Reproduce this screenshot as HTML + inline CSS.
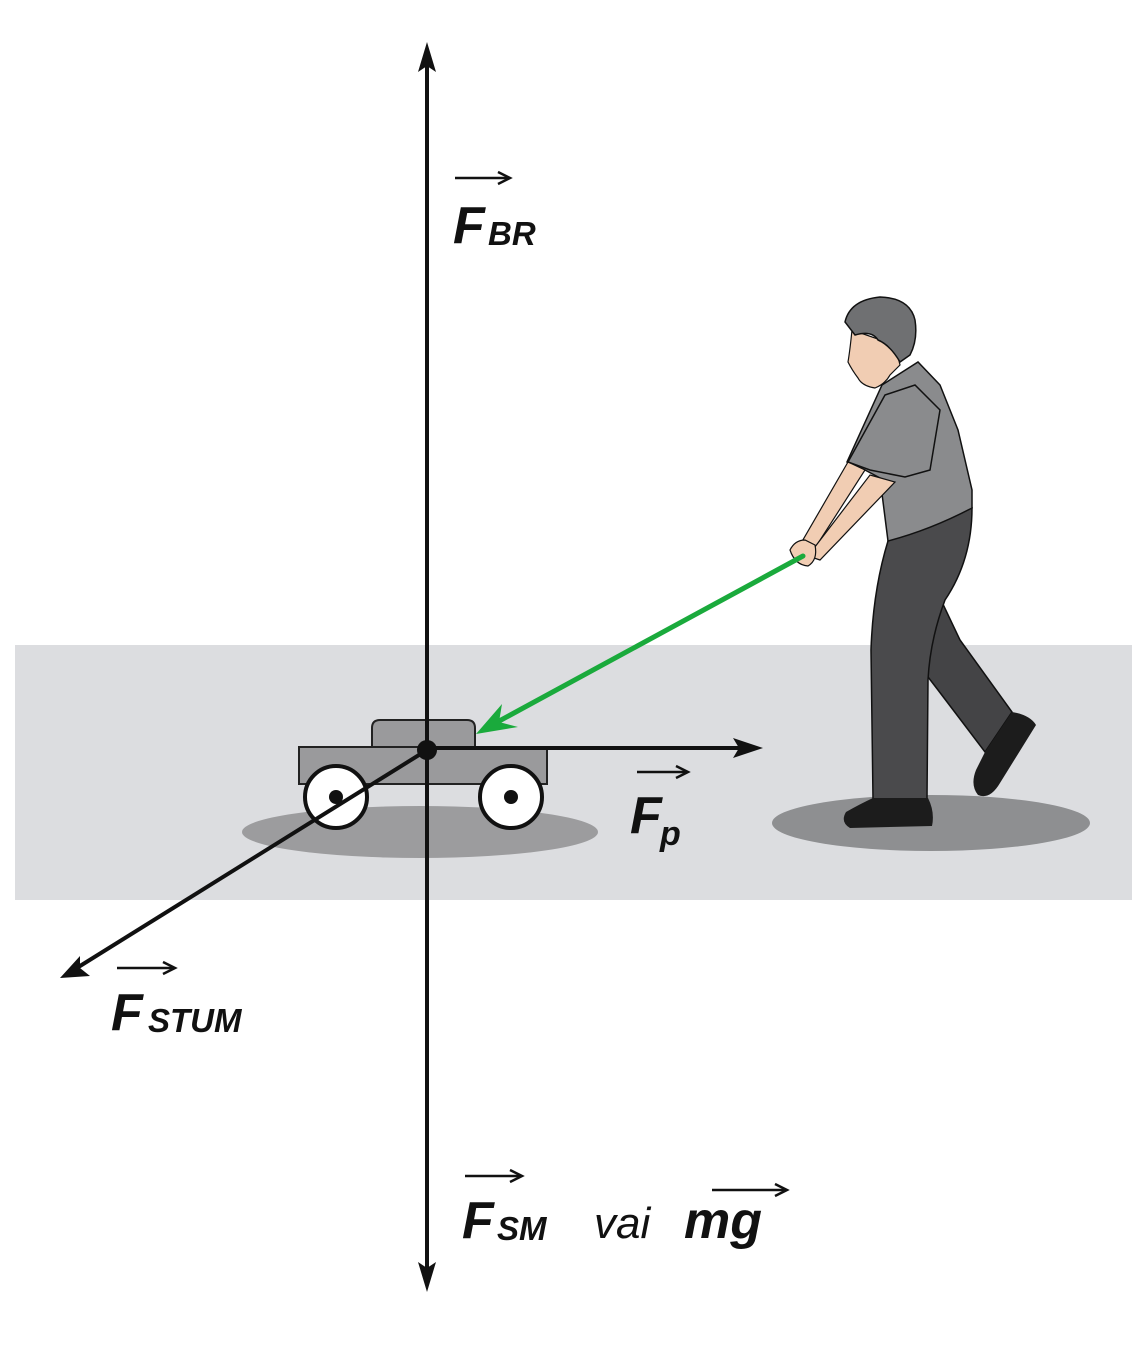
<!DOCTYPE html>
<html><head><meta charset="utf-8"><style>
html,body{margin:0;padding:0;background:#fff;}
svg{display:block;}
text{font-family:"Liberation Sans",sans-serif;font-style:italic;fill:#111;}
</style></head><body>
<svg width="1148" height="1370" viewBox="0 0 1148 1370" xmlns="http://www.w3.org/2000/svg">
<rect x="0" y="0" width="1148" height="1370" fill="#fff"/>
<rect x="15" y="645" width="1117" height="255" fill="#dcdde0"/>
<!-- shadows -->
<ellipse cx="420" cy="832" rx="178" ry="26" fill="#9c9c9e"/>
<ellipse cx="931" cy="823" rx="159" ry="28" fill="#8e8f91"/>
<!-- cart -->
<path d="M372,747 V728 Q372,720 380,720 H467 Q475,720 475,728 V747 Z" fill="#9a9a9c" stroke="#222" stroke-width="2"/>
<rect x="299" y="747" width="248" height="37" fill="#9a9a9c" stroke="#222" stroke-width="2"/>
<circle cx="336" cy="797" r="31" fill="#fff" stroke="#111" stroke-width="4"/>
<circle cx="336" cy="797" r="7" fill="#111"/>
<circle cx="511" cy="797" r="31" fill="#fff" stroke="#111" stroke-width="4"/>
<circle cx="511" cy="797" r="7" fill="#111"/>
<!-- vertical axis -->
<line x1="427" y1="55" x2="427" y2="1280" stroke="#111" stroke-width="4"/>
<polygon points="427,42 418,72 427,66 436,72" fill="#111"/>
<polygon points="427,1292 418,1262 427,1268 436,1262" fill="#111"/>
<!-- horizontal Fp -->
<line x1="427" y1="748" x2="750" y2="748" stroke="#111" stroke-width="4"/>
<polygon points="763,748 733,738 739,748 733,758" fill="#111"/>
<!-- STUM -->
<line x1="427" y1="750" x2="72" y2="971" stroke="#111" stroke-width="4"/>
<polygon points="60,978 80,956 80,968 90,976" fill="#111"/>
<circle cx="427" cy="750" r="10" fill="#111"/>
<!-- man: back leg -->
<path d="M922,560 L960,640 L1012,712 L985,752 L938,690 L915,660 Z" fill="#444446" stroke="#111" stroke-width="1.5"/>
<path d="M985,752 L1012,712 Q1030,715 1036,725 L1000,783 Q990,800 978,795 Q970,785 976,770 Z" fill="#1c1c1c"/>
<!-- front leg -->
<path d="M888,541 L972,508 Q972,560 945,600 Q930,640 928,680 L927,799 L873,799 L871,650 Q873,590 888,541 Z" fill="#4a4a4c" stroke="#111" stroke-width="1.5"/>
<path d="M873,798 L928,798 Q935,812 932,826 L850,828 Q840,822 846,812 Q860,804 873,798 Z" fill="#1c1c1c"/>
<!-- torso -->
<path d="M882,385 L918,362 L940,385 L958,430 L972,490 L972,508 Q930,530 888,541 L880,478 L865,470 L847,462 Z" fill="#8a8b8d" stroke="#111" stroke-width="1.5"/>
<!-- arms -->
<path d="M848,462 L865,470 L815,548 L800,545 Z" fill="#f1cdb3" stroke="#111" stroke-width="1.2"/>
<path d="M870,475 L895,482 L820,560 L808,556 Z" fill="#f1cdb3" stroke="#111" stroke-width="1.2"/>
<path d="M790,550 Q795,540 805,540 L815,545 Q818,560 808,566 Q795,565 790,550 Z" fill="#f1cdb3" stroke="#111" stroke-width="1.2"/>
<!-- sleeve -->
<path d="M885,395 L915,385 L940,410 L930,470 L905,477 L870,470 L848,462 Z" fill="#8a8b8d" stroke="#111" stroke-width="1.5"/>
<!-- head -->
<path d="M852,330 Q850,350 848,362 Q852,370 858,378 Q862,386 875,388 Q885,384 890,375 L900,365 L895,345 Z" fill="#f1cdb3" stroke="#111" stroke-width="1.2"/>
<path d="M845,322 Q850,300 880,297 Q910,298 915,320 Q918,340 910,355 L900,362 Q890,345 878,340 Q872,330 855,335 Z" fill="#6f7072" stroke="#111" stroke-width="1.5"/>
<!-- green arrow -->
<line x1="803" y1="556" x2="490" y2="726" stroke="#1aaa3c" stroke-width="5" stroke-linecap="round"/>
<polygon points="476,734 502,704 499,722 518,727" fill="#1aaa3c"/>
<!-- labels -->
<text x="453" y="243" font-size="52" font-weight="bold">F</text>
<text x="488" y="245" font-size="33" font-weight="bold">BR</text>
<line x1="455" y1="178" x2="508" y2="178" stroke="#111" stroke-width="2.5"/>
<polyline points="498,172 510,178 498,184" fill="none" stroke="#111" stroke-width="2.5"/>

<text x="630" y="833" font-size="52" font-weight="bold">F</text>
<text x="660" y="845" font-size="34" font-weight="bold">p</text>
<line x1="637" y1="772" x2="686" y2="772" stroke="#111" stroke-width="2.5"/>
<polyline points="676,766 688,772 676,778" fill="none" stroke="#111" stroke-width="2.5"/>

<text x="111" y="1030" font-size="52" font-weight="bold">F</text>
<text x="148" y="1032" font-size="33" font-weight="bold">STUM</text>
<line x1="117" y1="968" x2="173" y2="968" stroke="#111" stroke-width="2.5"/>
<polyline points="163,962 175,968 163,974" fill="none" stroke="#111" stroke-width="2.5"/>

<text x="462" y="1238" font-size="52" font-weight="bold">F</text>
<text x="497" y="1240" font-size="33" font-weight="bold">SM</text>
<line x1="465" y1="1176" x2="520" y2="1176" stroke="#111" stroke-width="2.5"/>
<polyline points="510,1170 522,1176 510,1182" fill="none" stroke="#111" stroke-width="2.5"/>
<text x="594" y="1238" font-size="44">vai</text>
<text x="684" y="1238" font-size="52" font-weight="bold">mg</text>
<line x1="712" y1="1190" x2="785" y2="1190" stroke="#111" stroke-width="2.5"/>
<polyline points="775,1184 787,1190 775,1196" fill="none" stroke="#111" stroke-width="2.5"/>
</svg>
</body></html>
